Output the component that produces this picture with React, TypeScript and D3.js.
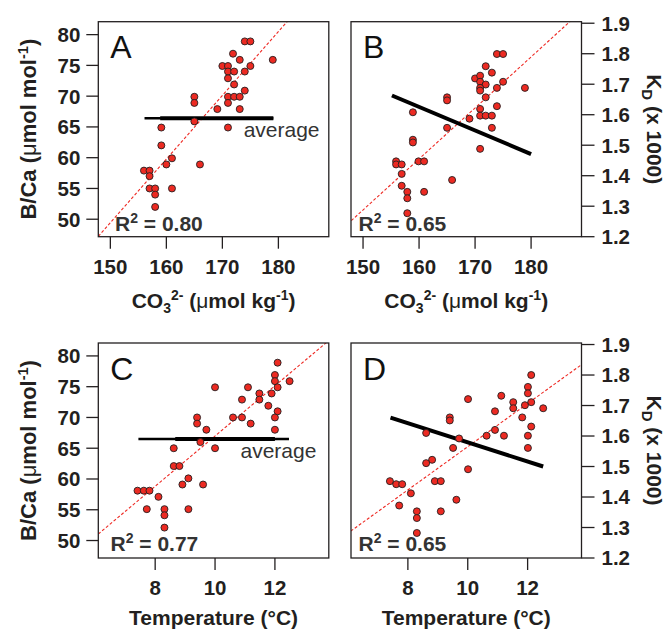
import React, { useEffect, useRef } from "react";
import * as d3 from "d3";

// axis ticks
const co3Ticks = [150, 160, 170, 180];
const tempTicks = [8, 10, 12];
const bcaTicks = [50, 55, 60, 65, 70, 75, 80];
const kdTicks = [1.2, 1.3, 1.4, 1.5, 1.6, 1.7, 1.8, 1.9];

const co3Domain = [147.85, 189.0];
const tempDomain = [6.1, 13.8];
const bcaDomain = [47.16, 82.1];
const kdDomain = [1.2, 1.905];

// panel A: CO3 vs B/Ca
const aCO3 = [174, 175, 171.9, 173.1, 179, 170, 171, 175, 171, 172.1, 174, 171, 172.1, 174, 171, 172.1, 173.1, 171, 173.1, 165, 165, 169.1, 165, 171, 159.1, 159.1, 161, 160, 166, 156, 157, 157, 157, 158, 161, 158, 158];
const aBCa = [78.9, 78.9, 76.9, 75.9, 75.9, 74.9, 74.9, 74.9, 74, 74, 74, 72.9, 71.9, 70.9, 69.9, 69.9, 69.9, 68.9, 67.9, 69.9, 68.9, 67.9, 65.9, 64.9, 64.9, 62, 59.9, 58.9, 58.9, 57.9, 57.9, 57, 55, 55, 55, 54, 52];

// panel B: CO3 vs KD
const bCO3 = [173.9, 175, 171.9, 173, 170, 170.9, 170.9, 171.9, 175, 170.9, 170.9, 173.9, 178.9, 171.9, 165, 165, 170.9, 173.9, 170.9, 171.9, 173, 169, 158.9, 165, 173, 170.9, 158.9, 158.9, 159.9, 160.9, 155.9, 155.9, 156.9, 156.9, 165.9, 156.9, 157.9, 160.9, 157.9, 157.9];
const bKd = [1.799, 1.799, 1.759, 1.738, 1.719, 1.728, 1.708, 1.699, 1.708, 1.688, 1.679, 1.688, 1.688, 1.657, 1.657, 1.647, 1.619, 1.628, 1.597, 1.597, 1.597, 1.587, 1.608, 1.557, 1.557, 1.488, 1.518, 1.509, 1.447, 1.447, 1.447, 1.437, 1.437, 1.406, 1.386, 1.367, 1.347, 1.347, 1.326, 1.277];

// panel C: temperature vs B/Ca
const cTemp = [12.09, 12, 12, 12.49, 12.09, 10, 11.1, 11.48, 11.89, 10.9, 11.48, 11.78, 12.09, 9.4, 9.4, 10.6, 10.9, 12, 9.71, 11.19, 12, 9.51, 10, 8.62, 8.62, 8.81, 9.11, 8.91, 9.6, 7.41, 7.62, 7.81, 8.11, 7.72, 8.31, 9.11, 8.31, 8.31];
const cBCa = [78.9, 76.9, 75.9, 75.9, 74.9, 74.9, 74.9, 73.9, 73.9, 72.9, 72.9, 71.9, 71, 70, 69, 70, 70, 70, 68, 69, 68, 66, 65, 65, 62.1, 62.1, 60.1, 59.1, 59.1, 58.1, 58.1, 58.1, 57.1, 55.1, 55.1, 55.1, 54.1, 52.1];

// panel D: temperature vs KD
const dTemp = [12.12, 12.01, 12.01, 12.12, 11.91, 11.52, 11.52, 11.12, 12.52, 10.01, 10.91, 11.82, 9.4, 9.4, 12.12, 10.91, 10.63, 11.21, 12.01, 8.61, 9.71, 9.51, 12.01, 8.81, 8.61, 10.01, 7.4, 7.61, 7.81, 8.9, 9.1, 8.1, 7.71, 9.62, 8.3, 8.3, 9.1, 8.3];
const dKd = [1.8, 1.761, 1.74, 1.711, 1.701, 1.711, 1.691, 1.732, 1.691, 1.721, 1.681, 1.661, 1.661, 1.651, 1.631, 1.62, 1.601, 1.601, 1.601, 1.61, 1.592, 1.561, 1.561, 1.522, 1.511, 1.491, 1.452, 1.442, 1.442, 1.452, 1.452, 1.412, 1.372, 1.391, 1.353, 1.331, 1.353, 1.282];

// regression (red dashed) lines: [x1, y1, x2, y2]
const fitA = [147.85, 47.2, 189, 89.8];
const fitB = [147.9, 1.2526, 189, 1.94];
const fitC = [6.1, 51.06, 13.8, 82.5];
const fitD = [6.09, 1.288, 13.8, 1.834];

// average lines (thin full + thick part) and KD trend lines
const avgA = [156.1, 179.1, 158.9, 179.1, 66.4];
const avgC = [7.44, 12.47, 8.67, 12.0, 66.5];
const trendB = [155.16, 1.663, 180.0, 1.471];
const trendD = [7.42, 1.66, 12.52, 1.5];

const r2Labels = ["0.80", "0.65", "0.77", "0.65"];
const letters = ["A", "B", "C", "D"];

const FONT = "'Liberation Sans', Arial, Helvetica, sans-serif";
const INK = "#231f20";

const colLeft = [98.3, 351];
const rowTop = [21.7, 343];
const panelW = 230.5;
const panelH = 215;

export default function App() {
  const svgRef = useRef<SVGSVGElement>(null);

  useEffect(() => {
    const svg = d3.select(svgRef.current);
    svg.selectAll("*").remove();

    const panels = [
      { id: "A", col: 0, row: 0, xd: co3Domain, yd: bcaDomain, xv: aCO3, yv: aBCa, fit: fitA, avg: avgA, trend: null, xt: co3Ticks, yt: bcaTicks, r2x: 115 },
      { id: "B", col: 1, row: 0, xd: co3Domain, yd: kdDomain, xv: bCO3, yv: bKd, fit: fitB, avg: null, trend: trendB, xt: co3Ticks, yt: kdTicks, r2x: 358.5 },
      { id: "C", col: 0, row: 1, xd: tempDomain, yd: bcaDomain, xv: cTemp, yv: cBCa, fit: fitC, avg: avgC, trend: null, xt: tempTicks, yt: bcaTicks, r2x: 110.5 },
      { id: "D", col: 1, row: 1, xd: tempDomain, yd: kdDomain, xv: dTemp, yv: dKd, fit: fitD, avg: null, trend: trendD, xt: tempTicks, yt: kdTicks, r2x: 358.5 },
    ];

    panels.forEach((p, i) => {
      const x0 = colLeft[p.col];
      const y0 = rowTop[p.row];
      const xs = d3.scaleLinear().domain(p.xd).range([x0, x0 + panelW]);
      const ys = d3.scaleLinear().domain(p.yd).range([y0 + panelH, y0]);
      const g = svg.append("g");

      const clipId = `clip-${p.id}`;
      svg.append("clipPath").attr("id", clipId)
        .append("rect").attr("x", x0).attr("y", y0).attr("width", panelW).attr("height", panelH);

      g.append("line")
        .attr("clip-path", `url(#${clipId})`)
        .attr("x1", xs(p.fit[0])).attr("y1", ys(p.fit[1]))
        .attr("x2", xs(p.fit[2])).attr("y2", ys(p.fit[3]))
        .attr("stroke", "#ee2a24").attr("stroke-width", 1.1)
        .attr("stroke-dasharray", "3 2");

      if (p.avg) {
        const yy = ys(p.avg[4]);
        g.append("line")
          .attr("x1", xs(p.avg[0])).attr("x2", xs(p.avg[1]))
          .attr("y1", yy).attr("y2", yy)
          .attr("stroke", "#000").attr("stroke-width", 2.6);
        g.append("line")
          .attr("x1", xs(p.avg[2])).attr("x2", xs(p.avg[3]))
          .attr("y1", yy).attr("y2", yy)
          .attr("stroke", "#000").attr("stroke-width", 4);
        g.append("text")
          .attr("x", xs(p.id === "A" ? 173.8 : 10.85))
          .attr("y", yy + 19)
          .attr("font-family", FONT).attr("font-size", 21)
          .attr("fill", "#333")
          .text("average");
      }

      if (p.trend) {
        g.append("line")
          .attr("x1", xs(p.trend[0])).attr("y1", ys(p.trend[1]))
          .attr("x2", xs(p.trend[2])).attr("y2", ys(p.trend[3]))
          .attr("stroke", "#000").attr("stroke-width", 4);
      }

      g.selectAll("circle.pt")
        .data(p.xv.map((v, k) => [v, p.yv[k]]))
        .enter().append("circle")
        .attr("class", "pt")
        .attr("cx", d => xs(d[0]))
        .attr("cy", d => ys(d[1]))
        .attr("r", 3.5)
        .attr("fill", "#ec2a22")
        .attr("stroke", INK)
        .attr("stroke-width", 0.9);

      // frame
      g.append("rect")
        .attr("x", x0).attr("y", y0).attr("width", panelW).attr("height", panelH)
        .attr("fill", "none").attr("stroke", INK).attr("stroke-width", 1.3);

      // letter
      g.append("text")
        .attr("x", x0 + 12).attr("y", y0 + 36.5)
        .attr("font-family", FONT).attr("font-size", 32)
        .attr("fill", "#111")
        .text(letters[i]);

      // R^2
      const r2 = g.append("text")
        .attr("x", p.r2x).attr("y", y0 + panelH - (p.row === 0 ? 6 : 7.5))
        .attr("font-family", FONT).attr("font-size", 21).attr("font-weight", "bold")
        .attr("fill", "#333");
      r2.append("tspan").text("R");
      r2.append("tspan").attr("font-size", 14).attr("dy", -8).text("2");
      r2.append("tspan").attr("dy", 8).text(` = ${r2Labels[i]}`);

      // x ticks
      const yb = y0 + panelH;
      p.xt.forEach(t => {
        g.append("line")
          .attr("x1", xs(t)).attr("x2", xs(t))
          .attr("y1", yb).attr("y2", yb + 12)
          .attr("stroke", INK).attr("stroke-width", 1.3);
        g.append("text")
          .attr("x", xs(t)).attr("y", yb + 36.8)
          .attr("text-anchor", "middle")
          .attr("font-family", FONT).attr("font-size", 20.5).attr("font-weight", "bold")
          .attr("fill", INK)
          .text(String(t));
      });

      // y ticks
      const left = p.col === 0;
      const xa = left ? x0 : x0 + panelW;
      p.yt.forEach(t => {
        g.append("line")
          .attr("x1", xa).attr("x2", left ? xa - 12 : xa + 13)
          .attr("y1", ys(t)).attr("y2", ys(t))
          .attr("stroke", INK).attr("stroke-width", 1.3);
        g.append("text")
          .attr("x", left ? xa - 18 : xa + 20)
          .attr("y", ys(t))
          .attr("dy", "0.36em")
          .attr("text-anchor", left ? "end" : "start")
          .attr("font-family", FONT).attr("font-size", 20.5).attr("font-weight", "bold")
          .attr("fill", INK)
          .text(left ? String(t) : d3.format(".1f")(t));
      });

      // y titles
      const cy = y0 + panelH / 2;
      if (left) {
        const tt = g.append("text")
          .attr("transform", `translate(28,${cy}) rotate(-90)`)
          .attr("y", 7.5)
          .attr("text-anchor", "middle")
          .attr("font-family", FONT).attr("font-size", 22).attr("font-weight", "bold")
          .attr("fill", INK);
        tt.append("tspan").text("B/Ca (");
        tt.append("tspan").attr("font-weight", "normal").text("μ");
        tt.append("tspan").text("mol mol");
        tt.append("tspan").attr("font-size", 14.5).attr("dy", -8).text("-1");
        tt.append("tspan").attr("dy", 8).text(")");
      } else {
        const tt = g.append("text")
          .attr("transform", `translate(654,${cy}) rotate(90)`)
          .attr("y", 7)
          .attr("text-anchor", "middle")
          .attr("font-family", FONT).attr("font-size", 21).attr("font-weight", "bold")
          .attr("fill", INK);
        tt.append("tspan").text("K");
        tt.append("tspan").attr("font-size", 15).attr("dy", 5).text("D");
        tt.append("tspan").attr("dy", -5).text(" (x 1000)");
      }

      // x titles
      const xt = g.append("text")
        .attr("x", x0 + panelW / 2)
        .attr("y", p.row === 0 ? yb + 71.6 : yb + 67)
        .attr("text-anchor", "middle")
        .attr("font-family", FONT).attr("font-size", 21).attr("font-weight", "bold")
        .attr("fill", INK);
      if (p.row === 0) {
        xt.append("tspan").text("CO");
        xt.append("tspan").attr("font-size", 14).attr("dy", 5).text("3");
        xt.append("tspan").attr("font-size", 14).attr("dy", -13).text("2-");
        xt.append("tspan").attr("dy", 8).text(" (");
        xt.append("tspan").attr("font-weight", "normal").text("μ");
        xt.append("tspan").text("mol kg");
        xt.append("tspan").attr("font-size", 14).attr("dy", -8).text("-1");
        xt.append("tspan").attr("dy", 8).text(")");
      } else {
        xt.text("Temperature (°C)");
      }
    });
  }, []);

  return (
    <svg
      ref={svgRef}
      width={670}
      height={630}
      style={{ position: "absolute", left: 0, top: 0, background: "#fff" }}
    />
  );
}
